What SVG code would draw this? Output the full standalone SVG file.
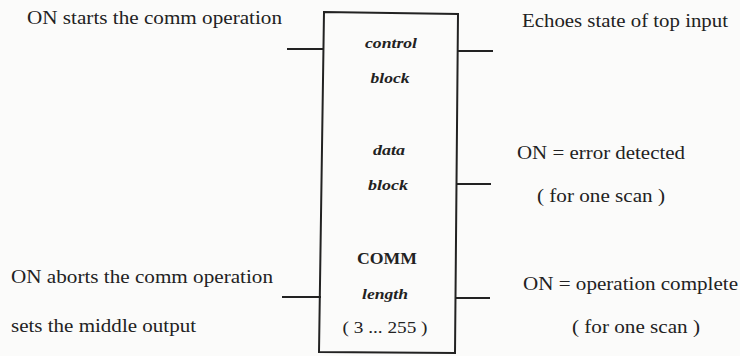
<svg xmlns="http://www.w3.org/2000/svg" width="740" height="356" viewBox="0 0 740 356">
<style>
.lbl{font-family:'Liberation Serif','Times New Roman',Tinos,'DejaVu Serif',serif;font-size:19px;fill:#222}
.ser{font-family:'Liberation Serif','Times New Roman',Tinos,'DejaVu Serif',serif}
.in{font-size:15px;font-style:italic;font-weight:bold;fill:#222;text-anchor:middle}
.inb{font-size:16px;font-weight:bold;fill:#222;text-anchor:middle}
.w{stroke:#222;stroke-width:2;fill:none}
</style>
<rect width="740" height="356" fill="#fbfbfa"/>
<g id="connectors">
<line class="w" x1="287" y1="49" x2="323" y2="49"/>
<line class="w" x1="457" y1="51" x2="493" y2="51"/>
<line class="w" x1="456" y1="184" x2="491" y2="184"/>
<line class="w" x1="282" y1="297" x2="321" y2="297"/>
<line class="w" x1="455" y1="298" x2="490" y2="298"/>
</g>
<g id="comm-block" class="ser">
<path class="w" d="M324,12 L458,14 L455,353 L319,352 Z"/>
<text class="in" x="391" y="48" textLength="52" lengthAdjust="spacingAndGlyphs">control</text>
<text class="in" x="390" y="83" textLength="39" lengthAdjust="spacingAndGlyphs">block</text>
<text class="in" x="389" y="155" textLength="32" lengthAdjust="spacingAndGlyphs">data</text>
<text class="in" x="388" y="190" textLength="40" lengthAdjust="spacingAndGlyphs">block</text>
<text class="inb" x="387" y="264" textLength="60" lengthAdjust="spacingAndGlyphs">COMM</text>
<text class="in" x="385" y="299" textLength="46" lengthAdjust="spacingAndGlyphs">length</text>
<text x="385" y="333" font-size="16" fill="#222" text-anchor="middle" textLength="85" lengthAdjust="spacingAndGlyphs">( 3 ... 255 )</text>
</g>
<g id="labels">
<text class="lbl" x="27" y="24" textLength="255" lengthAdjust="spacingAndGlyphs">ON starts the comm operation</text>
<text class="lbl" x="522" y="27" textLength="206" lengthAdjust="spacingAndGlyphs">Echoes state of top input</text>
<text class="lbl" x="517" y="159" textLength="168" lengthAdjust="spacingAndGlyphs">ON = error detected</text>
<text class="lbl" x="537" y="202" textLength="128" lengthAdjust="spacingAndGlyphs">( for one scan )</text>
<text class="lbl" x="11" y="283" textLength="262" lengthAdjust="spacingAndGlyphs">ON aborts the comm operation</text>
<text class="lbl" x="11" y="332" textLength="185" lengthAdjust="spacingAndGlyphs">sets the middle output</text>
<text class="lbl" x="523" y="290" textLength="215" lengthAdjust="spacingAndGlyphs">ON = operation complete</text>
<text class="lbl" x="572" y="333" textLength="128" lengthAdjust="spacingAndGlyphs">( for one scan )</text>
</g>
</svg>
